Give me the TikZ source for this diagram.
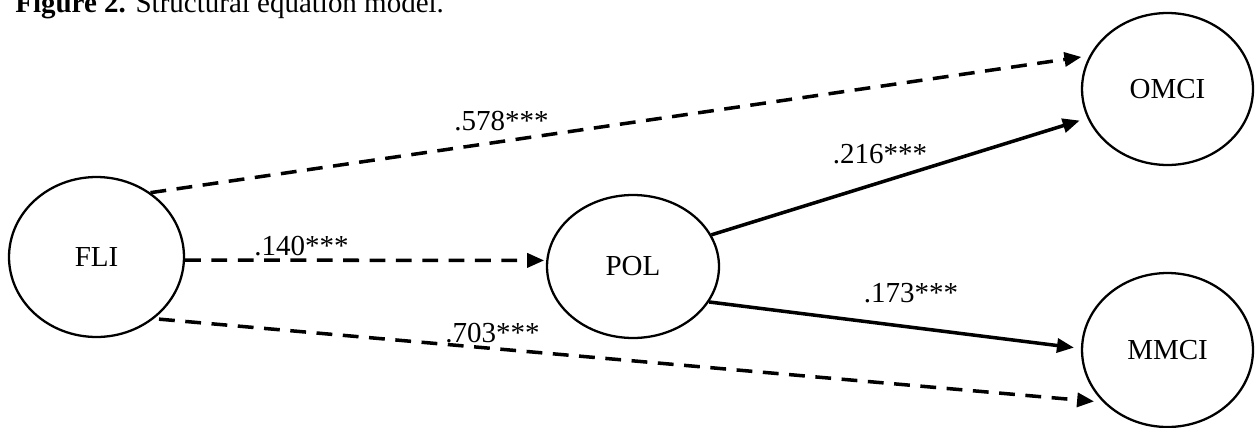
\documentclass[tikz,border=0pt]{standalone}
\usepackage{fontspec}
\setmainfont{Liberation Serif}
\usetikzlibrary{arrows.meta,shapes.geometric}

\begin{document}
\begin{tikzpicture}[x=0.02cm, y=0.02cm, every node/.style={font=\fontsize{16.5}{19}\selectfont}]
\tikzstyle{latent}=[draw, ellipse, line width=1.3pt, inner sep=0pt, align=center]
\tikzstyle{effect}=[line width=2pt, -{Triangle[length=0.34cm, width=0.28cm]}]
\tikzstyle{effectdash}=[effect, dash pattern=on 9pt off 6pt]
\tikzstyle{coef}=[anchor=base, inner sep=0pt]
\useasboundingbox (0,0) rectangle (1256,427);
\node[anchor=base west, inner sep=0pt] (title) at (15,415) {\textbf{Figure 2.} Structural equation model.};
\node[latent, minimum width=3.5cm, minimum height=3.2cm] (fli) at (96.5,170) {FLI};
\node[latent, minimum width=3.44cm, minimum height=2.86cm] (pol) at (633,160.5) {POL};
\node[latent, minimum width=3.42cm, minimum height=3.04cm] (omci) at (1167.5,338) {OMCI};
\node[latent, minimum width=3.42cm, minimum height=3.08cm] (mmci) at (1167.5,77) {MMCI};
\draw[effectdash, shorten >=0.16cm] (fli.50) -- (omci.157);
\draw[effectdash, shorten >=0.04cm] (fli.-2) -- (pol.176);
\draw[effectdash, shorten <=0.1cm, shorten >=0.18cm] (fli.-47) -- (mmci.219);
\draw[effect, shorten >=0.16cm] (pol.22) -- (omci.200);
\draw[effect, shorten >=0.14cm] (pol.-25) -- (mmci.179);
\node[coef] (c578) at (501.5,297) {.578***};
\node[coef] (c216) at (880,264) {.216***};
\node[coef] (c140) at (301.5,172) {.140***};
\node[coef] (c173) at (911,125) {.173***};
\node[coef] (c703) at (492.5,85) {.703***};
\end{tikzpicture}
\end{document}
